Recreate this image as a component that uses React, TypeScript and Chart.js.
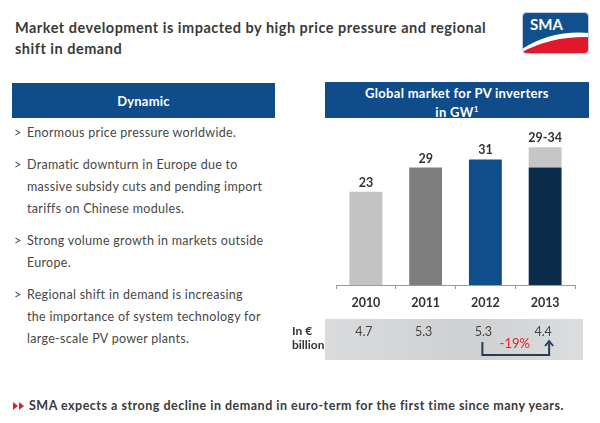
import React, { useEffect, useRef } from "react";
import { Chart, registerables } from "chart.js";

Chart.register(...registerables);

// ---- data ----
const years = ["2010", "2011", "2012", "2013"];
const baseGW = [23, 29, 31, 29];
const rangeGW = [0, 0, 0, 5];
const valueLabels = ["23", "29", "31", "29-34"];
const euroBillion = ["4.7", "5.3", "5.3", "4.4"];
const changeLabel = "-19%";
const baseColors = ["#c2c2c2", "#7e7e7e", "#0f4e8b", "#0c2c4c"];
const rangeColor = "#c6c6c6";

const titleLines = [
  "Market development is impacted by high price pressure and regional",
  "shift in demand",
];
const bullets = [
  ["Enormous price pressure worldwide."],
  ["Dramatic downturn in Europe due to", "massive subsidy cuts and pending import", "tariffs on Chinese modules."],
  ["Strong volume growth in markets outside", "Europe."],
  ["Regional shift in demand is increasing", "the importance of system technology for", "large-scale PV power plants."],
];
const footerText = "SMA expects a strong decline in demand in euro-term for the first time since many years.";

const FONT = "Lato, 'Noto Sans', sans-serif";
const BLUE = "#0f4c89";

const overlayPlugin = {
  id: "overlay",
  afterDraw(chart: any) {
    const ctx = chart.ctx;
    const xs = chart.scales.x;
    const ys = chart.scales.y;
    ctx.save();
    ctx.textAlign = "center";
    ctx.textBaseline = "middle";
    // value labels above bars
    ctx.font = "bold 12.5px " + FONT;
    ctx.fillStyle = "#333333";
    baseGW.forEach((v, i) => {
      const top = ys.getPixelForValue(v + rangeGW[i]);
      ctx.fillText(valueLabels[i], xs.getPixelForValue(i), top - 9);
    });
    // euro row
    ctx.font = "12.5px " + FONT;
    ctx.fillStyle = "#444444";
    euroBillion.forEach((t, i) => {
      ctx.fillText(t, xs.getPixelForValue(i) - 2, 212);
    });
    // bracket arrow
    const xl = xs.getPixelForValue(2) - 3;
    const xr = xs.getPixelForValue(3) + 4;
    ctx.strokeStyle = "#263d5a";
    ctx.lineWidth = 2;
    ctx.beginPath();
    ctx.moveTo(xl, 222);
    ctx.lineTo(xl, 235);
    ctx.lineTo(xr, 235);
    ctx.lineTo(xr, 223);
    ctx.stroke();
    ctx.beginPath();
    ctx.moveTo(xr - 4, 226);
    ctx.lineTo(xr, 221);
    ctx.lineTo(xr + 4, 226);
    ctx.stroke();
    ctx.font = "13px " + FONT;
    ctx.fillStyle = "#e3202d";
    ctx.fillText(changeLabel, (xl + xr) / 2 - 1, 224);
    ctx.restore();
  },
};

function BarChart() {
  const ref = useRef<HTMLCanvasElement>(null);
  useEffect(() => {
    if (!ref.current) return;
    const chart = new Chart(ref.current, {
      type: "bar",
      data: {
        labels: years,
        datasets: [
          {
            data: baseGW,
            backgroundColor: baseColors,
            borderWidth: 0,
            barPercentage: 0.55,
            categoryPercentage: 1,
          },
          {
            data: rangeGW,
            backgroundColor: rangeColor,
            borderWidth: 0,
            barPercentage: 0.55,
            categoryPercentage: 1,
          },
        ],
      },
      options: {
        animation: false,
        responsive: false,
        maintainAspectRatio: false,
        layout: { padding: { left: 56, right: 25, top: 3, bottom: 0 } },
        plugins: { legend: { display: false }, tooltip: { enabled: false } },
        scales: {
          x: {
            stacked: true,
            offset: true,
            grid: {
              display: true,
              drawOnChartArea: false,
              drawTicks: true,
              tickLength: 4,
              color: "#9a9a9a",
              offset: true,
            },
            border: { display: true, color: "#9a9a9a", width: 1 },
            ticks: {
              color: "#333333",
              font: { family: FONT, size: 12.5, weight: "bold" },
              padding: 6,
            },
            afterFit: (s: any) => {
              s.height = 85;
            },
          },
          y: {
            stacked: true,
            display: false,
            min: 0,
            max: 40,
          },
        },
      },
      plugins: [overlayPlugin],
    } as any);
    return () => chart.destroy();
  }, []);
  return (
    <canvas
      ref={ref}
      width={320}
      height={250}
      style={{ position: "absolute", left: 280, top: 120, width: 320, height: 250, zIndex: 2 }}
    />
  );
}

function Logo() {
  return (
    <svg width={67} height={42} style={{ position: "absolute", left: 522, top: 12 }} viewBox="0 0 67 42">
      <defs>
        <clipPath id="lc">
          <rect x={0.5} y={0.5} width={66} height={41} rx={4} />
        </clipPath>
      </defs>
      <g clipPath="url(#lc)">
        <rect x={0} y={0} width={67} height={42} fill="#ffffff" />
        <path d="M0,0 L67,0 L67,21 Q30,18 0,37 Z" fill="#10508f" />
        <path d="M0,42 L0,40 Q30,24 67,25 L67,42 Z" fill="#e0182b" />
      </g>
      <rect x={0.5} y={0.5} width={66} height={41} rx={4} fill="none" stroke="#c8ccd2" strokeWidth={1} />
      <text x={8} y={18} fill="#ffffff" fontFamily={FONT} fontWeight="bold" fontSize={15}>
        SMA
      </text>
    </svg>
  );
}

export default function App() {
  useEffect(() => {
    document.body.style.margin = "0";
  }, []);
  return (
    <div
      style={{
        position: "fixed",
        left: 0,
        top: 0,
        width: 600,
        height: 423,
        background: "#ffffff",
        fontFamily: FONT,
        overflow: "hidden",
      }}
    >
      {/* Title */}
      <div
        style={{
          position: "absolute",
          left: 15,
          top: 17,
          fontSize: 14.5,
          letterSpacing: "0.5px",
          lineHeight: "21px",
          fontWeight: "bold",
          color: "#3a3a3a",
          whiteSpace: "nowrap",
        }}
      >
        {titleLines.map((l, i) => (
          <div key={i}>{l}</div>
        ))}
      </div>
      <Logo />

      {/* Left header */}
      <div
        style={{
          position: "absolute",
          left: 12,
          top: 83,
          width: 263,
          height: 35,
          background: BLUE,
          color: "#fff",
          fontWeight: "bold",
          fontSize: 13,
          letterSpacing: "0.2px",
          display: "flex",
          alignItems: "center",
          justifyContent: "center",
        }}
      >
        Dynamic
      </div>

      {/* Bullets */}
      {bullets.map((b, bi) => {
        const tops = [122, 154, 230, 284];
        return (
          <div
            key={bi}
            style={{
              position: "absolute",
              left: 14,
              top: tops[bi],
              fontSize: 12.5,
              letterSpacing: "0.3px",
              lineHeight: "22px",
              color: "#474747",
              whiteSpace: "nowrap",
            }}
          >
            {b.map((l, li) => (
              <div key={li} style={{ position: "relative", paddingLeft: 13 }}>
                {li === 0 && <span style={{ position: "absolute", left: 0 }}>&gt;</span>}
                {l}
              </div>
            ))}
          </div>
        );
      })}

      {/* Right header */}
      <div
        style={{
          position: "absolute",
          left: 325,
          top: 82,
          width: 264,
          height: 36,
          background: BLUE,
          color: "#fff",
          fontWeight: "bold",
          fontSize: 13,
          letterSpacing: "0.3px",
          lineHeight: "19px",
          textAlign: "center",
          boxSizing: "border-box",
          paddingTop: 2,
          overflow: "hidden",
        }}
      >
        <div>Global market for PV inverters</div>
        <div>
          in GW<sup style={{ fontSize: 8, lineHeight: 0 }}>1</sup>
        </div>
      </div>

      {/* Euro row box */}
      <div
        style={{
          position: "absolute",
          left: 325,
          top: 319,
          width: 258,
          height: 41,
          background: "linear-gradient(90deg, #d9dbdd 0%, #ced0d2 55%, #dcdddf 100%)",
          zIndex: 1,
        }}
      />
      <div
        style={{
          position: "absolute",
          left: 292,
          top: 324,
          fontSize: 12,
          lineHeight: "14px",
          fontWeight: "bold",
          color: "#333",
          zIndex: 3,
        }}
      >
        <div>In €</div>
        <div>billion</div>
      </div>

      <BarChart />

      {/* Footer */}
      <svg width={12} height={10} style={{ position: "absolute", left: 13, top: 401 }} viewBox="0 0 12 10">
        <path d="M0,1 L5,5 L0,9 Z" fill="#d9202c" />
        <path d="M6,1 L11,5 L6,9 Z" fill="#d9202c" />
      </svg>
      <div
        style={{
          position: "absolute",
          left: 29,
          top: 398,
          fontSize: 12.5,
          letterSpacing: "0.5px",
          lineHeight: "16px",
          fontWeight: "bold",
          color: "#3a3a3a",
          whiteSpace: "nowrap",
        }}
      >
        {footerText}
      </div>
    </div>
  );
}
